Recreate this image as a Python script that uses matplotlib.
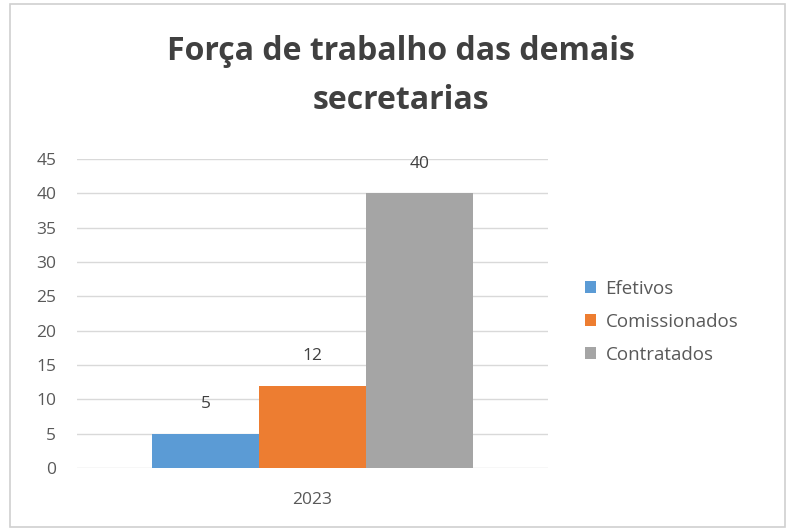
import matplotlib.pyplot as plt
from matplotlib.patches import Rectangle

plt.rcParams['font.family'] = ['Open Sans', 'DejaVu Sans']

anos = ['2023']
series = ['Efetivos', 'Comissionados', 'Contratados']
valores = [5, 12, 40]
cores = ['#5B9BD5', '#ED7D31', '#A5A5A5']
yticks = [0, 5, 10, 15, 20, 25, 30, 35, 40, 45]

W, H = 790, 531
fig = plt.figure(figsize=(W / 100, H / 100), dpi=100)
fig.patches.append(Rectangle((10 / W, 1 - 527 / H), 775 / W, 523 / H,
                             transform=fig.transFigure, fill=False,
                             edgecolor='#d0d0d0', linewidth=1.2))

# area do grafico em pixels
x0, x1, ytop, ybot = 77, 548, 159, 468
ax = fig.add_axes([x0 / W, 1 - ybot / H, (x1 - x0) / W, (ybot - ytop) / H])

pos = [-1, 0, 1]
for p, v, c, s in zip(pos, valores, cores, series):
    ax.bar(p, v, width=1.0, color=c, label=s)
    ax.annotate(str(v), (p, v), xytext=(0, 21), textcoords='offset points',
                ha='center', va='center', fontsize=12.5, color='#404040')

ax.set_xlim(-2.2, 2.2)
ax.set_ylim(0, 45)
ax.set_yticks(yticks)
ax.set_xticks([0])
ax.set_xticklabels(anos)
ax.tick_params(axis='y', length=0, pad=15, labelsize=12.5, labelcolor='#595959')
ax.tick_params(axis='x', length=0, pad=17, labelsize=12.5, labelcolor='#595959')
ax.grid(axis='y', color='#d9d9d9', linewidth=1)
ax.set_axisbelow(True)
for sp in ax.spines.values():
    sp.set_visible(False)

fig.text(401 / W, 1 - 76 / H, 'Força de trabalho das demais\nsecretarias',
         ha='center', va='center', fontsize=23, fontweight='bold',
         color='#404040', linespacing=1.62)

ax.legend(loc='center left', bbox_to_anchor=(568 / W, 1 - 322 / H),
          bbox_transform=fig.transFigure, frameon=False, fontsize=13.5,
          labelcolor='#595959', handlelength=0.6, handleheight=0.6,
          handletextpad=0.5, labelspacing=0.8)

fig.savefig('out.png', dpi=100)
